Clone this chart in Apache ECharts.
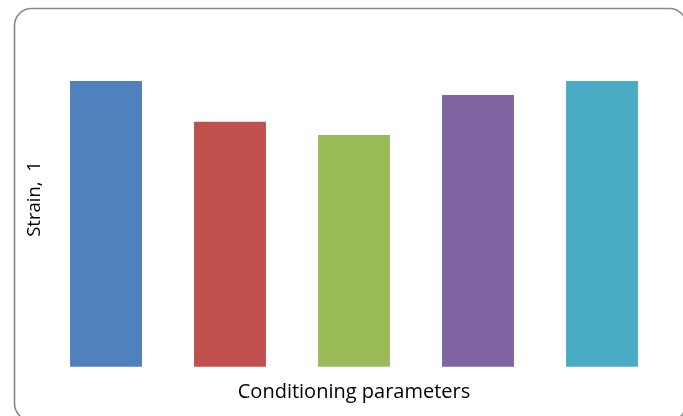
<!DOCTYPE html>
<html>
<head>
<meta charset="utf-8">
<style>
  html, body { margin: 0; padding: 0; background: #ffffff; }
  #chart { width: 683px; height: 416px; }
</style>
<script src="https://cdn.jsdelivr.net/npm/echarts@6/dist/echarts.min.js"></script>
</head>
<body>
<div id="chart"></div>
<script>
// Strain per conditioning parameter set (normalised)
const categories = ['A', 'B', 'C', 'D', 'E'];
const strainValues = [0.852, 0.730, 0.691, 0.810, 0.852];
const barColors = ['#4F81BD', '#C0504D', '#9BBB59', '#8064A2', '#4BACC6'];
const xTitle = 'Conditioning parameters';
const yTitle = 'Strain,  1';

const chart = echarts.init(document.getElementById('chart'), null, { renderer: 'canvas' });

chart.setOption({
  animation: false,
  backgroundColor: '#ffffff',
  textStyle: { fontFamily: 'Open Sans' },
  grid: { left: 44, right: 19, top: 31.3, bottom: 49.3, containLabel: false },
  graphic: [{
    type: 'rect',
    shape: { x: 14.5, y: 8.5, width: 672, height: 412, r: 17 },
    style: { fill: 'none', stroke: '#888888', lineWidth: 1.6 },
    silent: true,
    z: 100
  }],
  xAxis: {
    type: 'category',
    data: categories,
    name: xTitle,
    nameLocation: 'middle',
    nameGap: 16,
    nameTextStyle: { fontSize: 20, color: '#000000', fontFamily: 'Open Sans' },
    axisLine: { show: false },
    axisTick: { show: false },
    axisLabel: { show: false },
    splitLine: { show: false }
  },
  yAxis: {
    type: 'value',
    min: 0,
    max: 1,
    name: yTitle,
    nameLocation: 'middle',
    nameGap: 0,
    nameRotate: 90,
    nameTextStyle: { fontSize: 18.5, color: '#000000', fontFamily: 'Open Sans' },
    axisLine: { show: false },
    axisTick: { show: false },
    axisLabel: { show: false },
    splitLine: { show: false }
  },
  series: [{
    type: 'bar',
    barWidth: '58%',
    data: strainValues.map((v, i) => ({ value: v, itemStyle: { color: barColors[i] } }))
  }]
});
</script>
</body>
</html>
